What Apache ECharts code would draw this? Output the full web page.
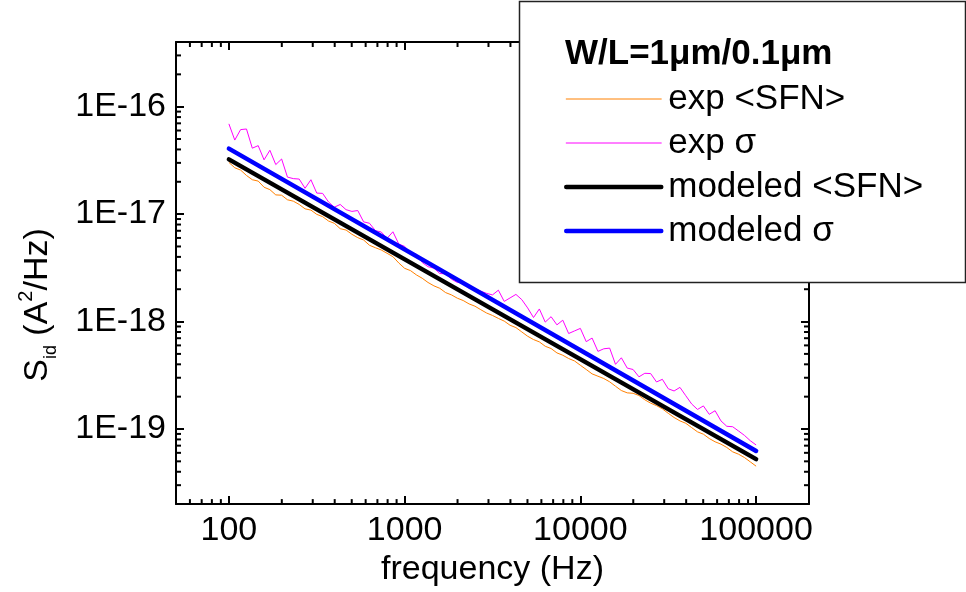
<!DOCTYPE html>
<html>
<head>
<meta charset="utf-8">
<script src="https://cdn.jsdelivr.net/npm/echarts@6/dist/echarts.min.js"></script>
<style>html,body{margin:0;padding:0;background:#fff}#c{width:966px;height:592px}</style>
</head>
<body>
<div id="c"></div>
<script>
// ---- data ----
const freq = [
  100, 108, 116.6, 125.9, 135.9, 146.8, 158.5, 171.1, 184.8, 199.5,
  215.4, 232.6, 251.2, 271.2, 292.9, 316.2, 341.5, 368.7, 398.1, 429.9,
  464.2, 501.2, 541.2, 584.3, 631, 681.3, 735.6, 794.3, 857.7, 926.1,
  1000, 1080, 1166, 1259, 1359, 1468, 1585, 1711, 1848, 1995,
  2154, 2326, 2512, 2712, 2929, 3162, 3415, 3687, 3981, 4299,
  4642, 5012, 5412, 5843, 6310, 6813, 7356, 7943, 8577, 9261,
  10000, 10798, 11659, 12589, 13594, 14678, 15849, 17113, 18478, 19953,
  21544, 23263, 25119, 27123, 29286, 31623, 34146, 36869, 39811, 42987,
  46416, 50119, 54117, 58434, 63096, 68129, 73564, 79433, 85770, 92612,
  100000
];
const expSFN = [
  3.03e-17, 2.70e-17, 2.57e-17, 2.29e-17, 2.09e-17, 2.03e-17, 1.78e-17, 1.69e-17, 1.51e-17, 1.50e-17,
  1.36e-17, 1.32e-17, 1.23e-17, 1.12e-17, 1.09e-17, 9.95e-18, 9.47e-18, 8.63e-18, 8.21e-18, 7.32e-18,
  7.11e-18, 6.49e-18, 6.04e-18, 5.74e-18, 5.13e-18, 4.87e-18, 4.64e-18, 4.32e-18, 4.02e-18, 3.51e-18,
  3.13e-18, 2.98e-18, 2.72e-18, 2.53e-18, 2.31e-18, 2.15e-18, 2.04e-18, 1.86e-18, 1.77e-18, 1.65e-18,
  1.57e-18, 1.46e-18, 1.39e-18, 1.29e-18, 1.20e-18, 1.14e-18, 1.07e-18, 1.01e-18, 9.24e-19, 8.79e-19,
  8.01e-19, 7.30e-19, 6.80e-19, 6.47e-19, 5.89e-19, 5.61e-19, 5.11e-19, 4.86e-19, 4.53e-19, 4.30e-19,
  3.92e-19, 3.58e-19, 3.26e-19, 3.10e-19, 2.95e-19, 2.75e-19, 2.50e-19, 2.28e-19, 2.17e-19, 2.15e-19,
  2.05e-19, 1.87e-19, 1.74e-19, 1.65e-19, 1.54e-19, 1.40e-19, 1.28e-19, 1.19e-19, 1.13e-19, 1.03e-19,
  9.41e-20, 8.95e-20, 8.16e-20, 7.60e-20, 7.23e-20, 6.73e-20, 6.13e-20, 5.83e-20, 5.43e-20, 4.95e-20,
  4.51e-20
];
const expSigma = [
  6.92e-17, 4.89e-17, 6.12e-17, 6.20e-17, 4.11e-17, 4.34e-17, 3.20e-17, 3.93e-17, 2.89e-17, 3.26e-17,
  2.21e-17, 2.14e-17, 2.12e-17, 1.74e-17, 2.09e-17, 1.57e-17, 1.56e-17, 1.30e-17, 1.16e-17, 1.23e-17,
  1.10e-17, 1.06e-17, 1.08e-17, 8.47e-18, 8.22e-18, 7.02e-18, 6.82e-18, 5.95e-18, 6.85e-18, 5.27e-18,
  5.01e-18, 4.37e-18, 4.24e-18, 3.55e-18, 3.24e-18, 3.14e-18, 2.80e-18, 2.78e-18, 2.48e-18, 2.31e-18,
  2.29e-18, 2.04e-18, 2.02e-18, 1.92e-18, 1.83e-18, 1.77e-18, 1.96e-18, 1.54e-18, 1.66e-18, 1.79e-18,
  1.60e-18, 1.34e-18, 1.09e-18, 1.31e-18, 9.89e-19, 1.11e-18, 9.32e-19, 1.03e-18, 7.74e-19, 8.18e-19,
  8.64e-19, 6.50e-19, 7.02e-19, 5.28e-19, 5.58e-19, 5.66e-19, 4.00e-19, 4.60e-19, 3.69e-19, 3.58e-19,
  3.06e-19, 3.30e-19, 3.28e-19, 2.74e-19, 2.90e-19, 2.37e-19, 2.26e-19, 2.44e-19, 2.04e-19, 1.71e-19,
  1.52e-19, 1.64e-19, 1.37e-19, 1.48e-19, 1.19e-19, 1.06e-19, 1.05e-19, 9.59e-20, 8.73e-20, 7.79e-20,
  7.10e-20
];
const modelFreq = [100, 100000];
const modeledSFN = [3.23e-17, 5.24e-20];
const modeledSigma = [4.07e-17, 6.25e-20];

const seriesNames = ['exp <SFN>', 'exp \u03c3', 'modeled <SFN>', 'modeled \u03c3'];
const legendTitle = 'W/L=1\u03bcm/0.1\u03bcm';
const xTitle = 'frequency (Hz)';

const X_MIN = 50, X_MAX = 200000;
const Y_MIN = 2e-20, Y_MAX = 4e-16;
const xMinorTicks = [60, 70, 80, 90,
  200, 300, 400, 500, 600, 700, 800, 900,
  2000, 3000, 4000, 5000, 6000, 7000, 8000, 9000,
  20000, 30000, 40000, 50000, 60000, 70000, 80000, 90000];
const yMinorTicks = [3e-20, 4e-20, 5e-20, 6e-20, 7e-20, 8e-20, 9e-20,
  2e-19, 3e-19, 4e-19, 5e-19, 6e-19, 7e-19, 8e-19, 9e-19,
  2e-18, 3e-18, 4e-18, 5e-18, 6e-18, 7e-18, 8e-18, 9e-18,
  2e-17, 3e-17, 4e-17, 5e-17, 6e-17, 7e-17, 8e-17, 9e-17,
  2e-16, 3e-16];

// ---- chart ----
const FONT = 'Liberation Sans, Arial, sans-serif';
const chart = echarts.init(document.getElementById('c'), null, {renderer: 'canvas'});

function isDecade(v) {
  const l = Math.log10(v);
  return Math.abs(l - Math.round(l)) < 1e-6;
}
function pairs(xs, ys) { return xs.map((x, i) => [x, ys[i]]); }

const axisLineStyle = {color: '#000', width: 2};
const majorTick = {show: true, inside: true, length: 8, lineStyle: {color: '#000', width: 2}};
const MINOR_LEN = 5;

function minorTickSeries(vals, isX) {
  return {
    type: 'custom', silent: true, clip: false, z: 5,
    data: vals.map(v => isX ? [v, Y_MIN] : [X_MIN, v]),
    renderItem: function (params, api) {
      const children = [];
      const st = {stroke: '#000', lineWidth: 2};
      if (isX) {
        const v = api.value(0);
        const a = api.coord([v, Y_MIN]);
        const b = api.coord([v, Y_MAX]);
        children.push({type: 'line', shape: {x1: a[0], y1: a[1], x2: a[0], y2: a[1] - MINOR_LEN}, style: st});
        children.push({type: 'line', shape: {x1: b[0], y1: b[1], x2: b[0], y2: b[1] + MINOR_LEN}, style: st});
      } else {
        const v = api.value(1);
        const a = api.coord([X_MIN, v]);
        const b = api.coord([X_MAX, v]);
        children.push({type: 'line', shape: {x1: a[0], y1: a[1], x2: a[0] + MINOR_LEN, y2: a[1]}, style: st});
        children.push({type: 'line', shape: {x1: b[0], y1: b[1], x2: b[0] - MINOR_LEN, y2: b[1]}, style: st});
      }
      return {type: 'group', children: children};
    }
  };
}

const option = {
  backgroundColor: '#fff',
  animation: false,
  grid: {left: 176, right: 157, top: 42, bottom: 84, containLabel: false},
  xAxis: [{
    type: 'log', logBase: 10, min: X_MIN, max: X_MAX, position: 'bottom',
    axisLine: {show: true, lineStyle: axisLineStyle},
    axisTick: majorTick,
    splitLine: {show: false},
    axisLabel: {
      fontSize: 34, fontFamily: FONT, color: '#000', margin: 10,
      formatter: v => isDecade(v) ? String(Math.round(v)) : ''
    },
    name: xTitle, nameLocation: 'middle', nameGap: 40,
    nameTextStyle: {fontSize: 34, fontFamily: FONT, color: '#000'}
  }, {
    type: 'log', logBase: 10, min: X_MIN, max: X_MAX, position: 'top',
    axisLine: {show: true, lineStyle: axisLineStyle},
    axisTick: majorTick,
    splitLine: {show: false},
    axisLabel: {show: false}
  }],
  yAxis: [{
    type: 'log', logBase: 10, min: Y_MIN, max: Y_MAX, position: 'left',
    axisLine: {show: true, lineStyle: axisLineStyle},
    axisTick: majorTick,
    splitLine: {show: false},
    axisLabel: {
      fontSize: 34, fontFamily: FONT, color: '#000', margin: 10,
      formatter: v => isDecade(v) ? ('1E' + Math.round(Math.log10(v))) : ''
    }
  }, {
    type: 'log', logBase: 10, min: Y_MIN, max: Y_MAX, position: 'right',
    axisLine: {show: true, lineStyle: axisLineStyle},
    axisTick: majorTick,
    splitLine: {show: false},
    axisLabel: {show: false}
  }],
  legend: {
    orient: 'vertical', left: 559, top: 74, z: 120,
    itemWidth: 95, itemHeight: 20, itemGap: 4,
    selectedMode: false,
    data: seriesNames,
    itemStyle: {opacity: 0, color: 'rgba(0,0,0,0)', borderWidth: 0},
    lineStyle: {width: 'inherit', cap: 'round'},
    textStyle: {fontSize: 35, fontFamily: FONT, color: '#000', lineHeight: 40, padding: [0, 0, 0, 2]}
  },
  graphic: [
    {
      type: 'rect', z: 100, silent: true,
      shape: {x: 519.5, y: 1.5, width: 446, height: 281},
      style: {fill: '#fff', stroke: '#222', lineWidth: 1.5}
    },
    {
      type: 'text', z: 110, silent: true, x: 565, y: 54,
      style: {text: legendTitle, font: 'bold 35px ' + FONT, fill: '#000', textAlign: 'left', textVerticalAlign: 'middle'}
    },
    {
      type: 'text', z: 110, silent: true, x: 38, y: 305, rotation: Math.PI / 2,
      style: {
        text: '{m|S}{sub|id}{m| (A}{sup|2}{m|/Hz)}',
        textAlign: 'center', textVerticalAlign: 'middle', fill: '#000',
        rich: {
          m: {fontSize: 34, fontFamily: FONT, lineHeight: 44, verticalAlign: 'middle', fill: '#000'},
          sub: {fontSize: 18, fontFamily: FONT, lineHeight: 18, verticalAlign: 'bottom', fill: '#000'},
          sup: {fontSize: 20, fontFamily: FONT, lineHeight: 18, verticalAlign: 'top', fill: '#000'}
        }
      }
    }
  ],
  series: [
    {
      name: seriesNames[0], type: 'line', symbol: 'none', xAxisIndex: 0, yAxisIndex: 0,
      data: pairs(freq, expSFN), z: 2,
      lineStyle: {color: '#FF8000', width: 1}, itemStyle: {color: '#FF8000'}
    },
    {
      name: seriesNames[1], type: 'line', symbol: 'none', xAxisIndex: 0, yAxisIndex: 0,
      data: pairs(freq, expSigma), z: 2,
      lineStyle: {color: '#FF00FF', width: 1}, itemStyle: {color: '#FF00FF'}
    },
    {
      name: seriesNames[2], type: 'line', symbol: 'none', xAxisIndex: 0, yAxisIndex: 0,
      data: pairs(modelFreq, modeledSFN), z: 3,
      lineStyle: {color: '#000000', width: 4.5, cap: 'round'}, itemStyle: {color: '#000000'}
    },
    {
      name: seriesNames[3], type: 'line', symbol: 'none', xAxisIndex: 0, yAxisIndex: 0,
      data: pairs(modelFreq, modeledSigma), z: 3,
      lineStyle: {color: '#0000FF', width: 4.5, cap: 'round'}, itemStyle: {color: '#0000FF'}
    },
    minorTickSeries(xMinorTicks, true),
    minorTickSeries(yMinorTicks, false)
  ]
};
chart.setOption(option);
</script>
</body>
</html>
